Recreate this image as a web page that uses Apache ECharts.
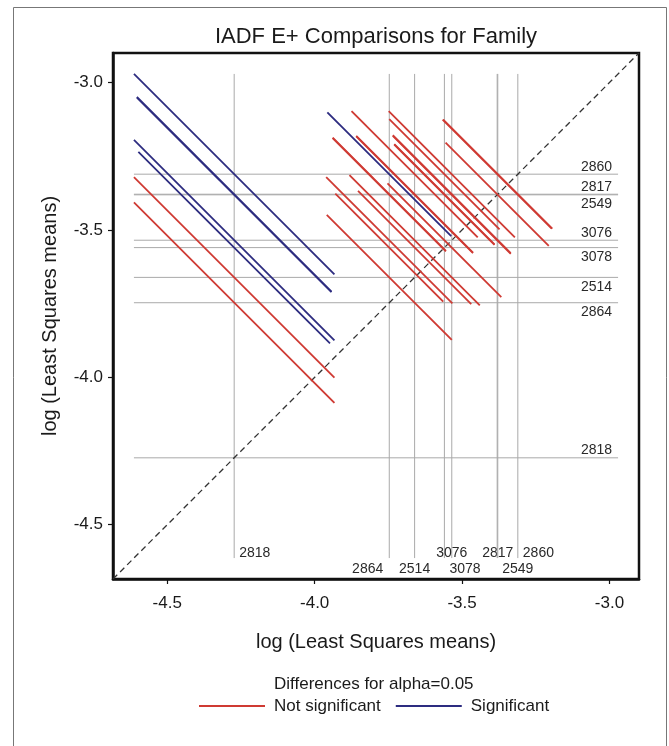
<!DOCTYPE html>
<html>
<head>
<meta charset="utf-8">
<script src="https://cdn.jsdelivr.net/npm/echarts@6/dist/echarts.min.js"></script>
<style>
  html, body { margin: 0; padding: 0; background: #fff; }
  #chart { width: 669px; height: 746px; }
</style>
</head>
<body>
<div id="chart"></div>
<script>
// Family levels and their log least-squares means
const families = ['2818', '2864', '2514', '3078', '3076', '2817', '2549', '2860'];
const lsMeans  = [-4.273, -3.747, -3.661, -3.560, -3.535, -3.379, -3.381, -3.311];

// Pairwise comparisons: the two families and the half-length of the
// difference segment (in axis units along x)
const pairFirst = [
  '2818', '2818', '2818', '2818', '2818', '2818', '2818',
  '2864', '2864', '2864', '2864', '2864', '2864',
  '2514', '2514', '2514', '2514', '2514',
  '3078', '3078', '3078', '3078',
  '3076', '3076', '3076',
  '2817', '2817',
  '2549'
];
const pairSecond = [
  '2864', '2514', '3078', '3076', '2817', '2549', '2860',
  '2514', '3078', '3076', '2817', '2549', '2860',
  '3078', '3076', '2817', '2549', '2860',
  '3076', '2817', '2549', '2860',
  '2817', '2549', '2860',
  '2549', '2860',
  '2860'
];
const pairHalfLen = [
  0.340, 0.340, 0.325, 0.340, 0.330, 0.330, 0.340,
  0.212, 0.183, 0.214, 0.192, 0.192, 0.210,
  0.192, 0.221, 0.198, 0.198, 0.214,
  0.193, 0.170, 0.170, 0.187,
  0.200, 0.200, 0.214,
  0.175, 0.185,
  0.185
];

const tickValues = [-4.5, -4.0, -3.5, -3.0];
const axisMin = -4.684;
const axisMax = -2.900;

// Where the family labels sit at the bottom of the vertical reference lines
const vLabelPlace = {
  '2818': ['top', 'right'],
  '2864': ['bottom', 'left'],
  '2514': ['bottom', 'center'],
  '3078': ['bottom', 'right'],
  '3076': ['top', 'center'],
  '2817': ['top', 'center'],
  '2549': ['bottom', 'right'],
  '2860': ['top', 'right']
};

const RED = '#cf3a33';
const BLUE = '#2d2c80';
const FONT = '"Liberation Sans", Arial, sans-serif';

const meanOf = name => lsMeans[families.indexOf(name)];

// Each comparison is a slope -1 segment centred at (lower mean, higher mean)
const segments = pairFirst.map((a, i) => {
  const ma = meanOf(a), mb = meanOf(pairSecond[i]);
  const h = pairHalfLen[i];
  return { cx: Math.min(ma, mb), cy: Math.max(ma, mb), h: h, sig: Math.abs(ma - mb) > 2 * h };
});

// Reference lines span the extent of all segments
let refLo = Infinity, refHi = -Infinity;
segments.forEach(s => {
  refLo = Math.min(refLo, s.cx - s.h, s.cy - s.h);
  refHi = Math.max(refHi, s.cx + s.h, s.cy + s.h);
});

function segmentData(sig) {
  return segments.filter(s => s.sig === sig).map(s => [s.cx, s.cy, s.h]);
}

function renderSegment(color) {
  return function (params, api) {
    const cx = api.value(0), cy = api.value(1), h = api.value(2);
    const p1 = api.coord([cx - h, cy + h]);
    const p2 = api.coord([cx + h, cy - h]);
    return {
      type: 'line',
      shape: { x1: p1[0], y1: p1[1], x2: p2[0], y2: p2[1] },
      style: { stroke: color, lineWidth: 1.8 }
    };
  };
}

// Right-hand labels: above the line unless that collides with the one above
function horizontalLabelCentres(api) {
  const ys = lsMeans.map(v => api.coord([refHi, v])[1]);
  const order = ys.map((y, i) => i).sort((a, b) => ys[a] - ys[b]);
  const centres = new Array(ys.length);
  const placed = [];
  order.forEach(i => {
    let c = ys[i] - 7.5;
    if (placed.some(p => Math.abs(p - c) < 14.5)) c = ys[i] + 9.5;
    placed.push(c);
    centres[i] = c;
  });
  return centres;
}

function renderRef(params, api) {
  const i = params.dataIndex;
  const m = api.value(0);
  const vTop = api.coord([m, refHi]);
  const vBot = api.coord([m, refLo]);
  const hL = api.coord([refLo, m]);
  const hR = api.coord([refHi, m]);
  const hCentre = horizontalLabelCentres(api)[i];
  const place = vLabelPlace[families[i]];
  const vy = place[0] === 'top' ? vBot[1] - 5 : vBot[1] + 11;
  let vx = vBot[0], vAlign = 'center';
  if (place[1] === 'right') { vx += 5; vAlign = 'left'; }
  if (place[1] === 'left') { vx -= 6; vAlign = 'right'; }
  const lineStyle = { stroke: '#a9a9a9', lineWidth: 1 };
  const font = '14px ' + FONT;
  return {
    type: 'group',
    children: [
      { type: 'line', shape: { x1: vTop[0], y1: vTop[1], x2: vBot[0], y2: vBot[1] }, style: lineStyle },
      { type: 'line', shape: { x1: hL[0], y1: hL[1], x2: hR[0], y2: hR[1] }, style: lineStyle },
      { type: 'text', style: { text: families[i], x: hR[0] - 6, y: hCentre, textAlign: 'right', textVerticalAlign: 'middle', font: font, fill: '#2a2a2a' } },
      { type: 'text', style: { text: families[i], x: vx, y: vy, textAlign: vAlign, textVerticalAlign: 'middle', font: font, fill: '#2a2a2a' } }
    ]
  };
}

const axisCommon = {
  type: 'value',
  min: axisMin,
  max: axisMax,
  splitLine: { show: false },
  axisLine: { show: true, lineStyle: { color: '#111', width: 2.5 } },
  axisTick: { show: true, customValues: tickValues, length: 5, lineStyle: { color: '#111', width: 1.2 } },
  nameLocation: 'middle',
  nameTextStyle: { fontSize: 20, color: '#1a1a1a', fontFamily: FONT }
};

const chart = echarts.init(document.getElementById('chart'), null, { renderer: 'canvas' });
chart.setOption({
  backgroundColor: '#fff',
  animation: false,
  title: [
    {
      text: 'IADF E+ Comparisons for Family',
      left: 376, top: 26, textAlign: 'center', padding: 0,
      textStyle: { fontSize: 22, fontWeight: 'normal', color: '#1a1a1a', fontFamily: FONT }
    },
    {
      text: 'Differences for alpha=0.05',
      left: 274, top: 676, padding: 0,
      textStyle: { fontSize: 17, fontWeight: 'normal', color: '#1a1a1a', fontFamily: FONT }
    }
  ],
  legend: {
    left: 199, top: 697, padding: 0,
    itemWidth: 66, itemHeight: 2, itemGap: 15,
    icon: 'rect',
    data: ['Not significant', 'Significant'],
    textStyle: { fontSize: 17, color: '#1a1a1a', fontFamily: FONT, padding: [0, 0, 0, 4], lineHeight: 18 }
  },
  grid: {
    left: 113, top: 53, width: 526, height: 526,
    show: true, borderColor: '#111', borderWidth: 2.5, backgroundColor: 'transparent'
  },
  xAxis: Object.assign({}, axisCommon, {
    name: 'log (Least Squares means)',
    nameGap: 53,
    axisLabel: {
      customValues: tickValues, margin: 16, fontSize: 17, color: '#1a1a1a', fontFamily: FONT,
      formatter: v => v.toFixed(1)
    }
  }),
  yAxis: Object.assign({}, axisCommon, {
    name: 'log (Least Squares means)',
    nameGap: 53,
    axisLabel: {
      customValues: tickValues, margin: 10, fontSize: 17, color: '#1a1a1a', fontFamily: FONT,
      formatter: v => v.toFixed(1)
    }
  }),
  graphic: [{
    type: 'rect', silent: true, z: -1,
    shape: { x: 13.5, y: 7.5, width: 653, height: 800 },
    style: { fill: 'none', stroke: '#777', lineWidth: 1 }
  }],
  series: [
    {
      type: 'custom', name: 'refs', silent: true, clip: false, z: 1,
      renderItem: renderRef,
      data: lsMeans.map(v => [v])
    },
    {
      type: 'line', name: 'diagonal', silent: true, z: 2,
      showSymbol: false, symbol: 'none',
      data: [[axisMin, axisMin], [axisMax, axisMax]],
      lineStyle: { color: '#333', width: 1.3, type: [6, 4] }
    },
    {
      type: 'custom', name: 'Not significant', silent: true, z: 3,
      itemStyle: { color: RED },
      renderItem: renderSegment(RED),
      data: segmentData(false)
    },
    {
      type: 'custom', name: 'Significant', silent: true, z: 4,
      itemStyle: { color: BLUE },
      renderItem: renderSegment(BLUE),
      data: segmentData(true)
    }
  ]
});
</script>
</body>
</html>
